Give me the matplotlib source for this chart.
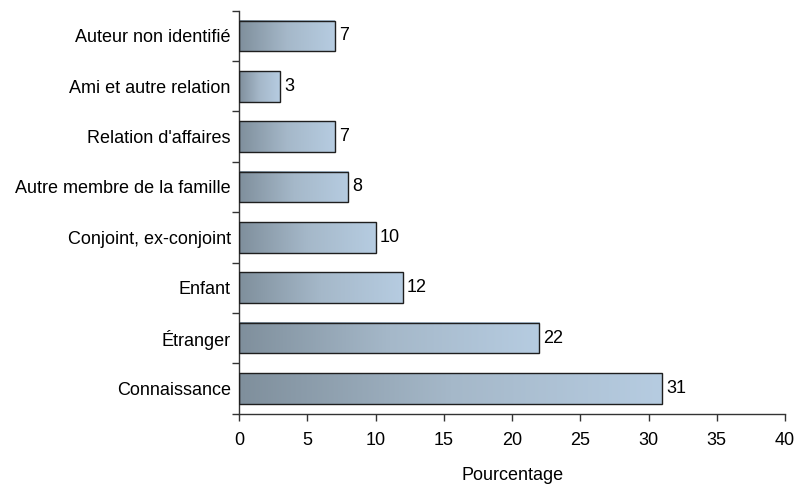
import numpy as np
import matplotlib.pyplot as plt
from matplotlib.colors import LinearSegmentedColormap

# data (bottom to top)
categories = ["Connaissance", "Étranger", "Enfant", "Conjoint, ex-conjoint",
              "Autre membre de la famille", "Relation d'affaires",
              "Ami et autre relation", "Auteur non identifié"]
values = [31, 22, 12, 10, 8, 7, 3, 7]

plt.rcParams["font.family"] = ["Liberation Sans", "DejaVu Sans"]
plt.rcParams["font.size"] = 13

fig = plt.figure(figsize=(7.96, 4.86), dpi=100)
ax = fig.add_axes([0.3003, 0.149, 0.686, 0.829])

cmap = LinearSegmentedColormap.from_list("bar", ["#7f8f9c", "#a5b8c9", "#b6cce1"])
grad = np.linspace(0, 1, 256).reshape(1, -1)

bar_h = 0.61
y = np.arange(len(categories))
bars = ax.barh(y, values, height=bar_h, facecolor="none", edgecolor="#1e1e1e",
               linewidth=1.0, zorder=3)
for b, v in zip(bars, values):
    x0, y0 = b.get_x(), b.get_y()
    im = ax.imshow(grad, cmap=cmap, aspect="auto", interpolation="bicubic",
                   extent=(x0, x0 + b.get_width(), y0, y0 + b.get_height()), zorder=2)
    ax.text(v + 0.3, y0 + b.get_height() / 2, str(v), va="center", ha="left")

ax.set_xlim(0, 40)
ax.set_ylim(-0.5, len(categories) - 0.5)
ax.set_xticks(np.arange(0, 41, 5))
ax.set_yticks(y)
ax.set_yticklabels(categories)
ax.set_yticks(np.arange(-0.5, len(categories), 1), minor=True)
ax.tick_params(axis="y", which="major", length=0, pad=6)
ax.tick_params(axis="y", which="minor", length=5, width=1, color="#333333")
ax.tick_params(axis="x", length=5, width=1, color="#333333", pad=8)

for s in ["top", "right"]:
    ax.spines[s].set_visible(False)
for s in ["left", "bottom"]:
    ax.spines[s].set_color("#333333")
    ax.spines[s].set_linewidth(1)

ax.set_xlabel("Pourcentage", labelpad=13)

fig.savefig("out.png", dpi=100)
